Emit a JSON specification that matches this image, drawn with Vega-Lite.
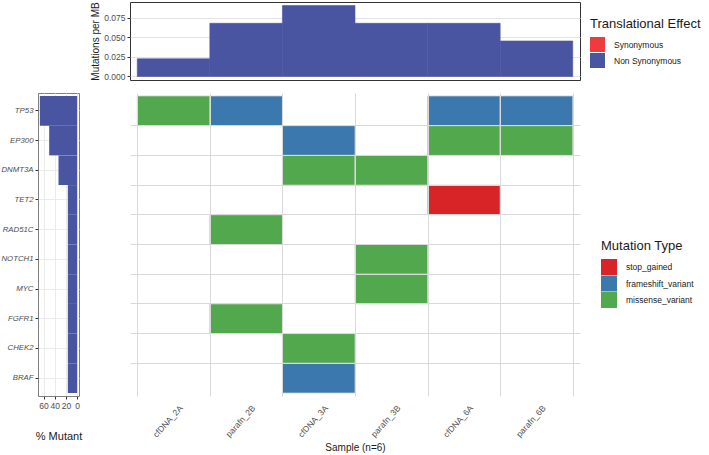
{
  "$schema": "https://vega.github.io/schema/vega-lite/v6.json",
  "padding": {"left": 0, "top": 1, "right": 2, "bottom": 2},
  "background": "white",
  "config": {
    "font": "Liberation Sans",
    "view": {"stroke": null},
    "axis": {"labelColor": "#4D4D4D", "titleColor": "#1A1A1A", "titleFontWeight": "normal", "tickColor": "#333333"},
    "legend": {"titleFontWeight": "normal", "titleColor": "#1A1A1A", "labelColor": "#1A1A1A"}
  },
  "datasets": {
    "burden": [
      {"sample": "cfDNA_2A", "burden": 0.0227, "effect": "Non Synonymous"},
      {"sample": "parafn_2B", "burden": 0.0682, "effect": "Non Synonymous"},
      {"sample": "cfDNA_3A", "burden": 0.0909, "effect": "Non Synonymous"},
      {"sample": "parafn_3B", "burden": 0.0682, "effect": "Non Synonymous"},
      {"sample": "cfDNA_6A", "burden": 0.0682, "effect": "Non Synonymous"},
      {"sample": "parafn_6B", "burden": 0.0455, "effect": "Non Synonymous"}
    ],
    "genes": [
      {"gene": "TP53", "pct": 66.67},
      {"gene": "EP300", "pct": 50},
      {"gene": "DNMT3A", "pct": 33.33},
      {"gene": "TET2", "pct": 16.67},
      {"gene": "RAD51C", "pct": 16.67},
      {"gene": "NOTCH1", "pct": 16.67},
      {"gene": "MYC", "pct": 16.67},
      {"gene": "FGFR1", "pct": 16.67},
      {"gene": "CHEK2", "pct": 16.67},
      {"gene": "BRAF", "pct": 16.67}
    ],
    "muts": [
      {"sample": "cfDNA_2A", "gene": "TP53", "type": "missense_variant"},
      {"sample": "parafn_2B", "gene": "TP53", "type": "frameshift_variant"},
      {"sample": "cfDNA_6A", "gene": "TP53", "type": "frameshift_variant"},
      {"sample": "parafn_6B", "gene": "TP53", "type": "frameshift_variant"},
      {"sample": "cfDNA_3A", "gene": "EP300", "type": "frameshift_variant"},
      {"sample": "cfDNA_6A", "gene": "EP300", "type": "missense_variant"},
      {"sample": "parafn_6B", "gene": "EP300", "type": "missense_variant"},
      {"sample": "cfDNA_3A", "gene": "DNMT3A", "type": "missense_variant"},
      {"sample": "parafn_3B", "gene": "DNMT3A", "type": "missense_variant"},
      {"sample": "cfDNA_6A", "gene": "TET2", "type": "stop_gained"},
      {"sample": "parafn_2B", "gene": "RAD51C", "type": "missense_variant"},
      {"sample": "parafn_3B", "gene": "NOTCH1", "type": "missense_variant"},
      {"sample": "parafn_3B", "gene": "MYC", "type": "missense_variant"},
      {"sample": "parafn_2B", "gene": "FGFR1", "type": "missense_variant"},
      {"sample": "cfDNA_3A", "gene": "CHEK2", "type": "missense_variant"},
      {"sample": "cfDNA_3A", "gene": "BRAF", "type": "frameshift_variant"}
    ]
  },
  "columns": 2,
  "bounds": "flush",
  "spacing": {"column": 51, "row": 13},
  "resolve": {
    "scale": {"x": "independent", "y": "independent", "color": "independent"},
    "axis": {"x": "independent", "y": "independent"},
    "legend": {"color": "independent"}
  },
  "concat": [
    {
      "width": 41,
      "height": 78,
      "data": {"values": [{"blank": ""}]},
      "mark": {"type": "text", "text": ""},
      "encoding": {}
    },
    {
      "width": 450,
      "height": 78,
      "view": {"stroke": "#333333", "strokeWidth": 1},
      "data": {"name": "burden"},
      "mark": {"type": "bar", "stroke": "#4A55A2", "strokeWidth": 0.6},
      "encoding": {
        "x": {"field": "sample", "type": "nominal", "sort": null,
              "scale": {"paddingInner": 0, "paddingOuter": 0.1}, "axis": null},
        "y": {"field": "burden", "type": "quantitative",
              "scale": {"domain": [-0.0045, 0.0955], "nice": false, "zero": false},
              "axis": {"values": [0, 0.025, 0.05, 0.075], "format": ".3f", "title": "Mutations per MB",
                       "grid": true, "gridColor": "#E3E3E3", "domain": false, "tickSize": 3,
                       "labelFontSize": 8.5, "titleFontSize": 10, "titlePadding": 3, "labelPadding": 2}},
        "color": {"field": "effect", "type": "nominal",
                  "scale": {"domain": ["Synonymous", "Non Synonymous"], "range": ["#F03B3E", "#4A55A2"]},
                  "legend": {"title": "Translational Effect", "orient": "none", "legendX": 460, "legendY": 16,
                             "titleFontSize": 13, "labelFontSize": 8.5, "symbolType": "square", "symbolSize": 225,
                             "symbolStrokeWidth": 0, "rowPadding": 1, "titlePadding": 6, "labelOffset": 9}}
      }
    },
    {
      "width": 41,
      "height": 303,
      "view": {"stroke": "#7F7F7F", "strokeWidth": 1},
      "data": {"name": "genes"},
      "mark": {"type": "bar", "color": "#4A55A2"},
      "encoding": {
        "y": {"field": "gene", "type": "nominal", "sort": null,
              "scale": {"paddingInner": 0, "paddingOuter": 0.1},
              "axis": {"title": null, "labelFontStyle": "italic", "labelFontSize": 7.8, "tickSize": 3,
                       "labelPadding": 2, "domain": false, "grid": true, "gridColor": "#EBEBEB", "bandPosition": 0.5}},
        "x": {"field": "pct", "type": "quantitative",
              "scale": {"domain": [-3.33, 70], "reverse": true, "nice": false, "zero": false},
              "axis": {"values": [0, 20, 40, 60], "title": "% Mutant", "titleFontSize": 11, "titlePadding": 21,
                       "labelFontSize": 8.5, "labelOverlap": false, "labelFlush": false, "grid": true,
                       "gridColor": "#EBEBEB", "domain": false, "tickSize": 3, "labelPadding": 2}}
      }
    },
    {
      "width": 450,
      "height": 303,
      "data": {"name": "muts"},
      "mark": {"type": "rect", "stroke": "#D0D0D0", "strokeWidth": 0.8},
      "encoding": {
        "x": {"field": "sample", "type": "nominal",
              "sort": ["cfDNA_2A", "parafn_2B", "cfDNA_3A", "parafn_3B", "cfDNA_6A", "parafn_6B"],
              "scale": {"domain": ["cfDNA_2A", "parafn_2B", "cfDNA_3A", "parafn_3B", "cfDNA_6A", "parafn_6B"],
                        "paddingInner": 0, "paddingOuter": 0.1},
              "axis": {"title": "Sample (n=6)", "tickBand": "extent", "grid": true, "gridColor": "#D9D9D9",
                       "ticks": false, "domain": false, "labelAngle": -48, "labelAlign": "right",
                       "labelBaseline": "middle", "labelFontSize": 8.5, "labelPadding": 10, "labelOffset": 7,
                       "titleFontSize": 10, "titlePadding": 4}},
        "y": {"field": "gene", "type": "nominal",
              "sort": ["TP53", "EP300", "DNMT3A", "TET2", "RAD51C", "NOTCH1", "MYC", "FGFR1", "CHEK2", "BRAF"],
              "scale": {"domain": ["TP53", "EP300", "DNMT3A", "TET2", "RAD51C", "NOTCH1", "MYC", "FGFR1", "CHEK2", "BRAF"],
                        "paddingInner": 0, "paddingOuter": 0.1},
              "axis": {"values": ["EP300", "DNMT3A", "TET2", "RAD51C", "NOTCH1", "MYC", "FGFR1", "CHEK2", "BRAF"],
                       "bandPosition": 0, "grid": true, "gridColor": "#D9D9D9", "labels": false, "ticks": false,
                       "domain": false, "title": null}},
        "color": {"field": "type", "type": "nominal",
                  "scale": {"domain": ["stop_gained", "frameshift_variant", "missense_variant"],
                            "range": ["#D92427", "#3A78AE", "#52A84D"]},
                  "legend": {"title": "Mutation Type", "orient": "none", "legendX": 471, "legendY": 147,
                             "titleFontSize": 13, "labelFontSize": 8.5, "symbolType": "square", "symbolSize": 256,
                             "symbolStrokeWidth": 0, "rowPadding": 0.5, "titlePadding": 6, "labelOffset": 9}}
      }
    }
  ]
}
